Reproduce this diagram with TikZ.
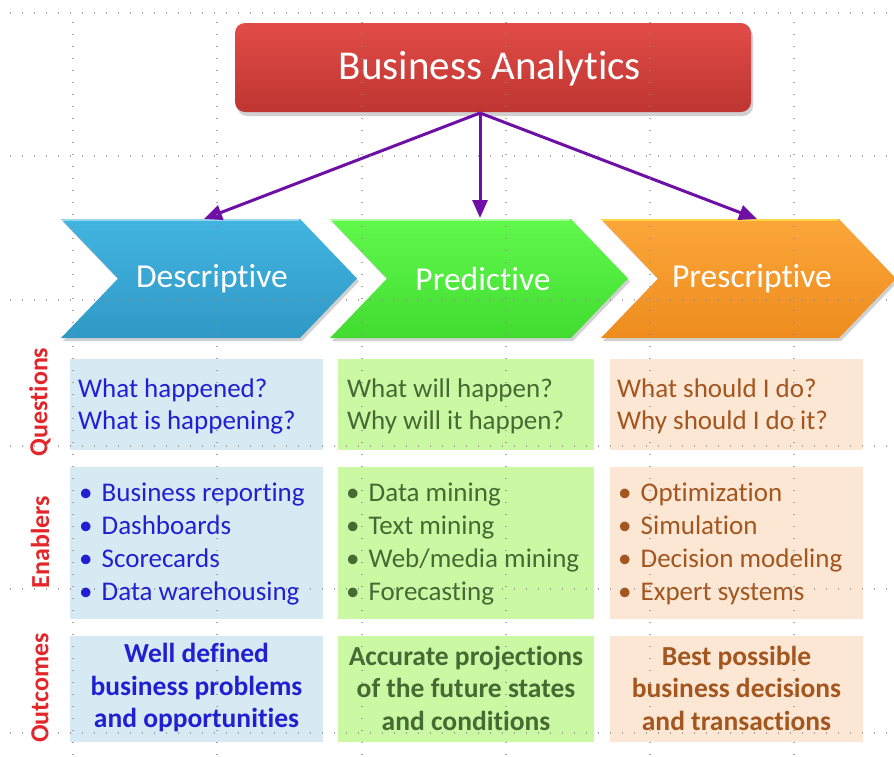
\documentclass[tikz,border=0pt]{standalone}
\usepackage{fontspec}
\setmainfont{Carlito}[RawFeature={-liga;-clig;-dlig}]
\usetikzlibrary{arrows.meta}

\definecolor{redtop}{HTML}{E24C48}
\definecolor{redbot}{HTML}{BE3531}
\definecolor{bluetop}{HTML}{42B4E0}
\definecolor{bluebot}{HTML}{3099C6}
\definecolor{greentop}{HTML}{60F84B}
\definecolor{greenbot}{HTML}{42DC31}
\definecolor{orangetop}{HTML}{FCA63A}
\definecolor{orangebot}{HTML}{EE8C1E}
\definecolor{bluebox}{HTML}{D7E9F2}
\definecolor{greenbox}{HTML}{CBF8A3}
\definecolor{orangebox}{HTML}{FCE6D4}
\definecolor{bluetext}{HTML}{2020D2}
\definecolor{greentext}{HTML}{456A33}
\definecolor{browntext}{HTML}{A3561E}
\definecolor{labelred}{HTML}{E3262A}
\definecolor{arrowpurple}{HTML}{6E10A6}

\newcommand{\chevronshape}[2]{% left x, right body x ; tip 57 further, notch 57 in
  (#1,219) -- (#2,219) -- ({#2+57},278.5) -- (#2,338) -- (#1,338) -- ({#1+57},278.5) -- cycle}
\newcommand{\bul}[1]{\makebox[22.5pt][l]{•}#1}

\begin{document}
\begin{tikzpicture}[x=1pt,y=-1pt,
  shadowfill/.style={fill=black,opacity=0.18},
  chevtext/.style={text=white,font=\fontsize{33.5}{38}\selectfont,inner sep=0pt},
  cell/.style={inner sep=0pt,outer sep=0pt},
  qtext/.style={anchor=west,align=left,inner sep=0pt,font=\fontsize{27}{32}\selectfont},
  btext/.style={anchor=west,align=left,inner sep=0pt,font=\fontsize{27}{33}\selectfont},
  otext/.style={align=center,inner sep=0pt,font=\bfseries\fontsize{27.5}{32.5}\selectfont},
  rowlabel/.style={rotate=90,text=labelred,inner sep=0pt,font=\bfseries\fontsize{26}{30}\selectfont},
  link/.style={draw=arrowpurple,line width=3pt,-{Triangle[length=18pt,width=15pt]}},
  griddot/.style={draw=black!45,line width=1.3pt,dash pattern=on 1.3pt off 10.7pt,opacity=0.75}
]
\useasboundingbox (0,0) rectangle (894,756);

% title box
\fill[shadowfill,rounded corners=10pt] (237,27) rectangle (753,116);
\shade[top color=redtop,bottom color=redbot,rounded corners=10pt] (235,23) rectangle (751,112);
\node[cell] (ba) at (493,67.5) {};
\node[text=white,font=\fontsize{41}{45}\selectfont,inner sep=0pt] (batext) at (490,69) {Business Analytics};

% three chevrons
\fill[shadowfill] [shift={(2,3)}] \chevronshape{61}{300};
\fill[shadowfill] [shift={(2,3)}] \chevronshape{330}{571};
\fill[shadowfill] [shift={(2,3)}] \chevronshape{601}{839};
\shade[top color=bluetop,bottom color=bluebot] \chevronshape{61}{300};
\shade[top color=greentop,bottom color=greenbot] \chevronshape{330}{571};
\shade[top color=orangetop,bottom color=orangebot] \chevronshape{601}{839};
\draw[white,opacity=0.45,line width=1.5pt] (62,220) -- (299,220);
\draw[white,opacity=0.45,line width=1.5pt] (331,220) -- (570,220);
\draw[yellow!70,opacity=0.6,line width=1.5pt] (602,220) -- (838,220);

\node[chevtext] (desc) at (212,279) {Descriptive};
\node[chevtext] (pred) at (483,279) {Predictive};
\node[chevtext] (pres) at (752,279) {Prescriptive};

% connectors from the title to the chevrons
\coordinate (hub) at (480,113);
\coordinate (desctop) at (204,219);
\coordinate (predtop) at (480,218);
\coordinate (prestop) at (757,219);
\draw[link] (hub) -- (desctop);
\draw[link] (hub) -- (predtop);
\draw[link] (hub) -- (prestop);

% table cells
\fill[bluebox]   (70,359) rectangle (323,450);
\fill[greenbox]  (338,359) rectangle (594,450);
\fill[orangebox] (610,359) rectangle (863,450);
\fill[bluebox]   (70,467) rectangle (323,619);
\fill[greenbox]  (338,467) rectangle (594,619);
\fill[orangebox] (610,467) rectangle (863,619);
\fill[bluebox]   (70,636) rectangle (323,742);
\fill[greenbox]  (338,636) rectangle (594,742);
\fill[orangebox] (610,636) rectangle (863,742);

% row labels
\node[rowlabel] (lq) at (40,402) {Questions};
\node[rowlabel] (le) at (40,542) {Enablers};
\node[rowlabel] (lo) at (40,688) {Outcomes};

% questions
\node[qtext,text=bluetext]  (q1) at (78,406)  {What happened?\\What is happening?};
\node[qtext,text=greentext] (q2) at (347,406) {What will happen?\\Why will it happen?};
\node[qtext,text=browntext] (q3) at (617,406) {What should I do?\\Why should I do it?};

% enablers
\node[btext,text=bluetext] (e1) at (79,544)
  {\bul{Business reporting}\\\bul{Dashboards}\\\bul{Scorecards}\\\bul{Data warehousing}};
\node[btext,text=greentext] (e2) at (346,544)
  {\bul{Data mining}\\\bul{Text mining}\\\bul{Web/media mining}\\\bul{Forecasting}};
\node[btext,text=browntext] (e3) at (618,544)
  {\bul{Optimization}\\\bul{Simulation}\\\bul{Decision modeling}\\\bul{Expert systems}};

% outcomes
\node[otext,text=bluetext]  (o1) at (196.5,688) {Well defined\\business problems\\and opportunities};
\node[otext,text=greentext] (o2) at (466,688)   {Accurate projections\\of the future states\\and conditions};
\node[otext,text=browntext] (o3) at (736.5,688) {Best possible\\business decisions\\and transactions};

% dotted layout grid
\foreach \gy in {13,156,300,446,589,733}
  \draw[griddot] (10,\gy) -- (894,\gy);
\foreach \gx in {73,217,362,506,650,794}
  \draw[griddot] (\gx,22) -- (\gx,756);
\end{tikzpicture}
\end{document}
